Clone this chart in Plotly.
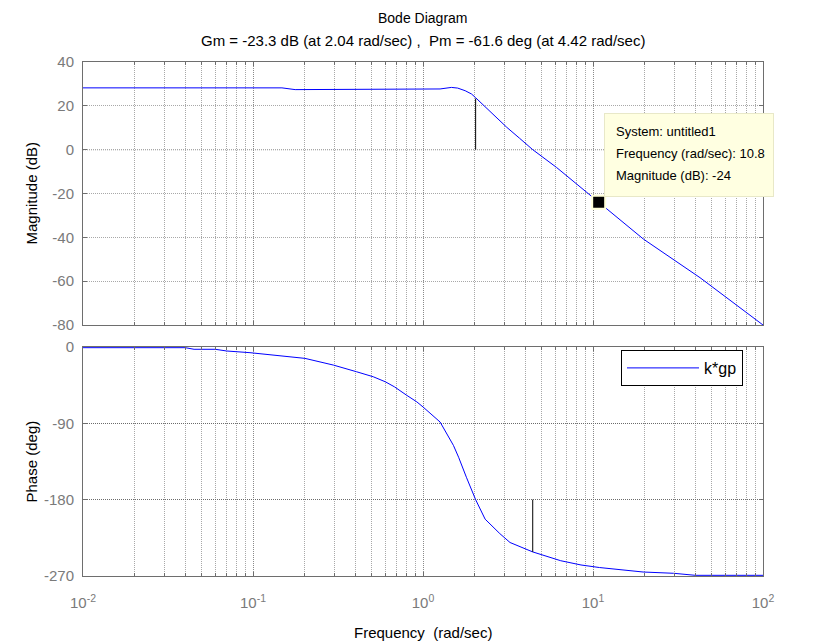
import numpy as np
import plotly.graph_objects as go

# ---- data ----
freq_mag = [0.01, 0.05, 0.1, 0.148, 0.177, 0.3, 0.5, 0.8, 1.0, 1.26, 1.47, 1.6, 1.77, 1.93,
            2.04, 2.5, 3.11, 3.7, 4.42, 6.1, 9.4, 10.8, 19.8, 42.6, 100]
mag_db = [28.2, 28.2, 28.2, 28.2, 27.4, 27.4, 27.4, 27.4, 27.5, 27.7, 28.4, 28.1, 26.9, 25.4,
          23.7, 17.2, 10.2, 5.2, 0.0, -8.1, -20.2, -24.0, -40.8, -58.4, -80.0]

freq_ph = [0.01, 0.04, 0.045, 0.06, 0.07, 0.096, 0.202, 0.297, 0.407, 0.51, 0.60, 0.68, 0.80,
           0.92, 1.0, 1.26, 1.51, 1.62, 1.80, 2.04, 2.32, 2.83, 3.25, 4.42, 6.46, 8.5, 10.9,
           19.7, 29.8, 40.0, 100]
phase_deg = [-0.8, -0.8, -2.7, -2.7, -4.7, -6.7, -13.4, -21.3, -29.2, -35.1, -41.0, -47.0, -56.8,
             -64.7, -70.7, -88.4, -116.0, -130.0, -153.6, -180.0, -203.0, -220.0, -230.5, -241.6,
             -252.0, -257.0, -260.0, -265.3, -266.8, -269.2, -269.2]

gm_freq, gm_db = 2.04, -23.3        # gain margin
pm_freq, pm_deg = 4.42, -61.6       # phase margin
tip_freq, tip_mag = 10.8, -24       # data tip

mag_ticks = [-80, -60, -40, -20, 0, 20, 40]
mag_ticklabels = ["-80", "-60", "-40", "-20", "0", "20", "40"]
phase_ticks = [-270, -180, -90, 0]
phase_ticklabels = ["-270", "-180", "-90", "0"]
freq_ticks = [0.01, 0.1, 1, 10, 100]
freq_ticklabels = ["10<sup>-2</sup>", "10<sup>-1</sup>", "10<sup>0</sup>", "10<sup>1</sup>", "10<sup>2</sup>"]

title_text = "Bode Diagram"
subtitle_text = "Gm = -23.3 dB (at 2.04 rad/sec) ,  Pm = -61.6 deg (at 4.42 rad/sec)"
legend_name = "k*gp"

# ---- styles ----
FONT = "Liberation Sans, Arial, sans-serif"
AXC = "#6e6e6e"
TICKC = "#7a7a7a"
MAJ = "#8a8a8a"
MINC = "#a8a8a8"
BLUE = "#0000ff"

fig = go.Figure()

fig.add_trace(go.Scatter(x=freq_mag, y=mag_db, mode="lines", line=dict(color=BLUE, width=1),
                         xaxis="x", yaxis="y", showlegend=False, hoverinfo="skip"))
fig.add_trace(go.Scatter(x=[gm_freq, gm_freq], y=[0, -gm_db], mode="lines",
                         line=dict(color="black", width=1), xaxis="x", yaxis="y",
                         showlegend=False, hoverinfo="skip"))
fig.add_trace(go.Scatter(x=freq_ph, y=phase_deg, mode="lines", line=dict(color=BLUE, width=1),
                         xaxis="x2", yaxis="y2", name=legend_name, showlegend=True))
fig.add_trace(go.Scatter(x=[pm_freq, pm_freq], y=[-180, -180 + pm_deg], mode="lines",
                         line=dict(color="black", width=1), xaxis="x2", yaxis="y2",
                         showlegend=False, hoverinfo="skip"))
fig.add_trace(go.Scatter(x=[tip_freq], y=[tip_mag], mode="markers",
                         marker=dict(symbol="square", size=13, color="black",
                                     line=dict(color="#ffffd8", width=2)),
                         xaxis="x", yaxis="y", showlegend=False, hoverinfo="skip"))

H_TOTAL = 576 - 62
top_dom = [(576 - 325) / H_TOTAL, 1.0]
bot_dom = [0.0, (576 - 347) / H_TOTAL]

xcommon = dict(type="log", range=[-2, 2], showline=True, linecolor=AXC, linewidth=1,
               mirror="ticks", ticks="inside", ticklen=4, tickcolor=AXC,
               tickvals=freq_ticks, showgrid=True, gridcolor=MAJ, griddash="1px,1px",
               gridwidth=1, zeroline=False,
               minor=dict(ticks="inside", ticklen=3, tickcolor=AXC, showgrid=True,
                          gridcolor=MINC, griddash="1px,1px", dtick="D1"),
               tickfont=dict(family=FONT, size=15, color=TICKC))

fig.update_layout(
    width=820, height=644,
    margin=dict(l=83, r=57, t=62, b=68),
    paper_bgcolor="white", plot_bgcolor="white",
    font=dict(family=FONT, color="black"),
    xaxis=dict(xcommon, domain=[0, 1], anchor="y", matches="x2", showticklabels=False),
    xaxis2=dict(xcommon, domain=[0, 1], anchor="y2", ticktext=freq_ticklabels,
                ticklabelstandoff=13),
    yaxis=dict(domain=top_dom, anchor="x", range=[-80, 40], tickvals=mag_ticks,
               ticktext=mag_ticklabels,
               showline=True, linecolor=AXC, mirror="ticks", ticks="inside", ticklen=4,
               tickcolor=AXC, showgrid=True, gridcolor=MINC, griddash="1px,1px",
               zeroline=False, tickfont=dict(family=FONT, size=15, color=TICKC),
               ticklabelstandoff=5),
    yaxis2=dict(domain=bot_dom, anchor="x2", range=[-270, 0], tickvals=phase_ticks,
                ticktext=phase_ticklabels,
                showline=True, linecolor=AXC, mirror="ticks", ticks="inside", ticklen=4,
                tickcolor=AXC, showgrid=True, gridcolor="#6a6a6a", griddash="1px,1px",
                zeroline=False, tickfont=dict(family=FONT, size=15, color=TICKC),
                ticklabelstandoff=5),
    legend=dict(x=(621 - 83) / 680, y=(576 - 350) / H_TOTAL, xanchor="left", yanchor="top",
                bgcolor="white", bordercolor="black", borderwidth=1,
                font=dict(family=FONT, size=16, color="black"), itemwidth=72),
)

# 0 dB reference line drawn darker
fig.add_shape(type="line", xref="x domain", yref="y", x0=0, x1=1, y0=0, y1=0,
              line=dict(color="#404040", width=1, dash="1px,1px"), layer="below")

# titles
fig.add_annotation(text=title_text, xref="x domain", yref="paper", x=0.5, y=1, yshift=44,
                   showarrow=False, font=dict(family=FONT, size=14, color="black"),
                   xanchor="center", yanchor="middle")
fig.add_annotation(text=subtitle_text, xref="x domain", yref="paper", x=0.5, y=1, yshift=22,
                   showarrow=False, font=dict(family=FONT, size=15, color="black"),
                   xanchor="center", yanchor="middle")
fig.add_annotation(text="Frequency  (rad/sec)", xref="x2 domain", yref="paper", x=0.5, y=0,
                   yshift=-56, showarrow=False, font=dict(family=FONT, size=15, color="black"),
                   xanchor="center", yanchor="middle")
fig.add_annotation(text="Magnitude (dB)", xref="paper", yref="y domain", x=0, y=0.5,
                   xshift=-52, textangle=-90, showarrow=False,
                   font=dict(family=FONT, size=15, color="black"),
                   xanchor="center", yanchor="middle")
fig.add_annotation(text="Phase (deg)", xref="paper", yref="y2 domain", x=0, y=0.5,
                   xshift=-52, textangle=-90, showarrow=False,
                   font=dict(family=FONT, size=15, color="black"),
                   xanchor="center", yanchor="middle")

# data tip box
tx = float(np.log10(tip_freq))
fig.add_annotation(text="", x=tx, y=tip_mag, xref="x", yref="y", xanchor="left",
                   yanchor="bottom", xshift=5, yshift=5, width=168, height=82,
                   bgcolor="#ffffe1", bordercolor="#e8e8c8", borderwidth=1, borderpad=0,
                   showarrow=False)
tip_lines = ["System: untitled1", f"Frequency (rad/sec): {tip_freq}",
             f"Magnitude (dB): {tip_mag}"]
for i, line in enumerate(tip_lines):
    fig.add_annotation(text=line, x=tx, y=tip_mag, xref="x", yref="y", xanchor="left",
                       yanchor="middle", xshift=15, yshift=71 - 22 * i, showarrow=False,
                       font=dict(family=FONT, size=13, color="black"))

fig.write_html("out.html")
